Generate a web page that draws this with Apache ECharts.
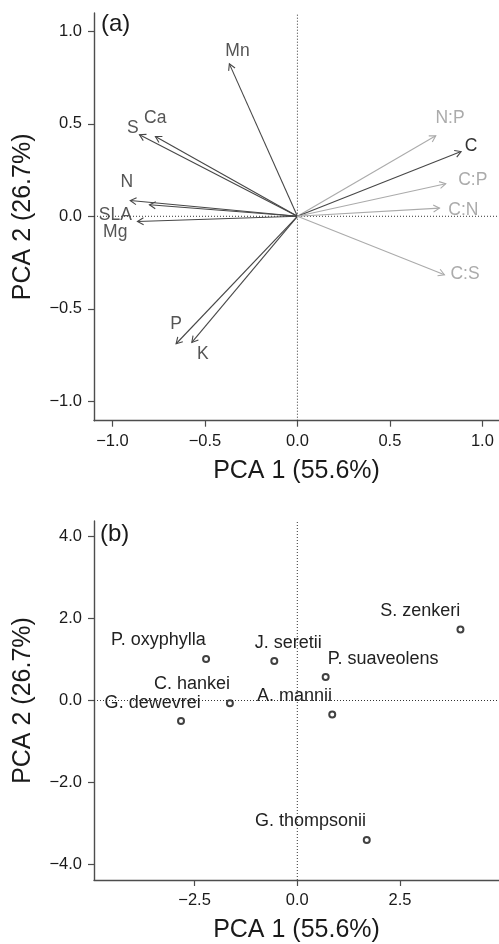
<!DOCTYPE html>
<html>
<head>
<meta charset="utf-8">
<script src="https://cdn.jsdelivr.net/npm/echarts@6/dist/echarts.min.js"></script>
<style>
  html, body { margin: 0; padding: 0; background: #fff; }
  #chart { width: 499px; height: 944px; }
</style>
</head>
<body>
<div id="chart"></div>
<script>
// Loadings of leaf traits on the first two principal components (panel a)
const loadingNames = ['Mn', 'S', 'Ca', 'N', 'SLA', 'Mg', 'P', 'K', 'N:P', 'C', 'C:P', 'C:N', 'C:S'];
const loadingPC1 = [-0.368, -0.854, -0.768, -0.904, -0.800, -0.865, -0.656, -0.571, 0.748, 0.885, 0.802, 0.768, 0.795];
const loadingPC2 = [0.824, 0.441, 0.431, 0.085, 0.062, -0.028, -0.689, -0.682, 0.435, 0.350, 0.176, 0.044, -0.316];
// 'trait' = single traits, 'ratio' = stoichiometric ratios
const loadingKind = ['trait', 'trait', 'trait', 'trait', 'trait', 'trait', 'trait', 'trait', 'ratio', 'trait', 'ratio', 'ratio', 'ratio'];
// where each loading's name sits (PC units)
const loadingLabelPC1 = [-0.324, -0.890, -0.769, -0.922, -0.985, -0.985, -0.656, -0.511, 0.825, 0.939, 0.948, 0.897, 0.906];
const loadingLabelPC2 = [0.891, 0.477, 0.531, 0.183, 0.008, -0.088, -0.581, -0.745, 0.531, 0.381, 0.197, 0.035, -0.311];

// Species scores on the first two principal components (panel b)
const species = ['S. zenkeri', 'P. oxyphylla', 'J. seretii', 'P. suaveolens', 'C. hankei', 'A. mannii', 'G. dewevrei', 'G. thompsonii'];
const scorePC1 = [3.97, -2.22, -0.56, 0.69, -1.64, 0.85, -2.83, 1.69];
const scorePC2 = [1.73, 1.01, 0.96, 0.57, -0.07, -0.34, -0.50, -3.40];
const speciesLabelPC1 = [2.99, -3.38, -0.22, 2.09, -2.56, -0.07, -3.52, 0.32];
const speciesLabelPC2 = [2.17, 1.465, 1.40, 1.01, 0.40, 0.12, -0.07, -2.93];

// Axis ticks and titles
const ticksA = [-1.0, -0.5, 0.0, 0.5, 1.0];
const ticksBx = [-2.5, 0.0, 2.5];
const ticksBy = [-4.0, -2.0, 0.0, 2.0, 4.0];
const titlePC1 = 'PCA 1 (55.6%)';
const titlePC2 = 'PCA 2 (26.7%)';

const FONT = "'Liberation Sans', Arial, Helvetica, sans-serif";
const INK = '#1a1a1a';
const AXIS = '#4d4d4d';
const DARK = '#474747';
const LIGHT = '#ababab';

const fmt = v => (v < 0 ? '\u2212' : '') + Math.abs(v).toFixed(1);

function valueAxis(gridIndex, min, max, ticks, name, isY) {
  return {
    type: 'value', gridIndex, min, max,
    name, nameLocation: 'middle', nameGap: isY ? 58 : 38,
    nameTextStyle: { fontSize: 25, color: INK, fontFamily: FONT },
    axisLine: { show: true, onZero: false, lineStyle: { color: AXIS, width: 1.4 } },
    axisTick: { show: true, length: 6, customValues: ticks, lineStyle: { color: AXIS, width: 1.2 } },
    axisLabel: { customValues: ticks, formatter: fmt, fontSize: 16.5, color: INK, fontFamily: FONT, margin: 12 },
    splitLine: { show: false }
  };
}

function dottedLine(xi, yi, pts) {
  return {
    type: 'line', xAxisIndex: xi, yAxisIndex: yi, data: pts,
    symbol: 'none', silent: true, z: 1,
    lineStyle: { color: '#333', width: 1, type: [1, 2] }
  };
}

const arrowData = loadingNames.map((n, i) => [loadingPC1[i], loadingPC2[i], i]);
const loadingLabelData = loadingNames.map((n, i) => [loadingLabelPC1[i], loadingLabelPC2[i], i]);
const speciesPoints = species.map((n, i) => [scorePC1[i], scorePC2[i]]);
const speciesLabelData = species.map((n, i) => [speciesLabelPC1[i], speciesLabelPC2[i], i]);

const option = {
  backgroundColor: '#fff',
  animation: false,
  textStyle: { fontFamily: FONT },
  grid: [
    { left: 94, top: 13, width: 405, height: 407.7 },
    { left: 94, top: 521, width: 405, height: 360 }
  ],
  xAxis: [
    valueAxis(0, -1.1, 1.09, ticksA, titlePC1, false),
    valueAxis(1, -4.947, 4.908, ticksBx, titlePC1, false)
  ],
  yAxis: [
    valueAxis(0, -1.105, 1.099, ticksA, titlePC2, true),
    valueAxis(1, -4.374, 4.374, ticksBy, titlePC2, true)
  ],
  graphic: [
    { type: 'text', left: 101, top: 12, style: { text: '(a)', fontSize: 24, fill: INK, fontFamily: FONT } },
    { type: 'text', left: 100, top: 522, style: { text: '(b)', fontSize: 24, fill: INK, fontFamily: FONT } }
  ],
  series: [
    dottedLine(0, 0, [[0, -1.105], [0, 1.099]]),
    dottedLine(0, 0, [[-1.1, 0], [1.09, 0]]),
    dottedLine(1, 1, [[0, -4.374], [0, 4.374]]),
    dottedLine(1, 1, [[-4.947, 0], [4.908, 0]]),
    {
      // loading arrows with open heads
      type: 'custom', xAxisIndex: 0, yAxisIndex: 0, data: arrowData, z: 3, silent: true,
      renderItem(params, api) {
        const o = api.coord([0, 0]);
        const t = api.coord([api.value(0), api.value(1)]);
        const i = api.value(2);
        const color = loadingKind[i] === 'ratio' ? LIGHT : DARK;
        const ang = Math.atan2(t[1] - o[1], t[0] - o[0]);
        const L = 7, a = Math.PI / 6;
        const h1 = [t[0] - L * Math.cos(ang - a), t[1] - L * Math.sin(ang - a)];
        const h2 = [t[0] - L * Math.cos(ang + a), t[1] - L * Math.sin(ang + a)];
        return {
          type: 'group',
          children: [
            { type: 'line', shape: { x1: o[0], y1: o[1], x2: t[0], y2: t[1] }, style: { stroke: color, lineWidth: 1.1 } },
            { type: 'polyline', shape: { points: [h1, t, h2] }, style: { stroke: color, fill: null, lineWidth: 1.1 } }
          ]
        };
      }
    },
    {
      // loading names
      type: 'custom', xAxisIndex: 0, yAxisIndex: 0, data: loadingLabelData, z: 4, silent: true, clip: false,
      renderItem(params, api) {
        const p = api.coord([api.value(0), api.value(1)]);
        const i = api.value(2);
        let fill = loadingKind[i] === 'ratio' ? LIGHT : '#555';
        if (loadingNames[i] === 'C') fill = '#333';
        return {
          type: 'text', x: p[0], y: p[1],
          style: { text: loadingNames[i], fill, fontSize: 17.5, fontFamily: FONT, align: 'center', verticalAlign: 'middle' }
        };
      }
    },
    {
      type: 'scatter', xAxisIndex: 1, yAxisIndex: 1, data: speciesPoints, z: 4, silent: true,
      symbol: 'circle', symbolSize: 6,
      itemStyle: { color: '#fff', borderColor: '#111', borderWidth: 2 }
    },
    {
      // species names
      type: 'custom', xAxisIndex: 1, yAxisIndex: 1, data: speciesLabelData, z: 4, silent: true, clip: false,
      renderItem(params, api) {
        const p = api.coord([api.value(0), api.value(1)]);
        const i = api.value(2);
        return {
          type: 'text', x: p[0], y: p[1],
          style: { text: species[i], fill: '#222', fontSize: 18, fontFamily: FONT, align: 'center', verticalAlign: 'middle' }
        };
      }
    }
  ]
};

const chart = echarts.init(document.getElementById('chart'), null, { renderer: 'canvas' });
chart.setOption(option);
</script>
</body>
</html>
